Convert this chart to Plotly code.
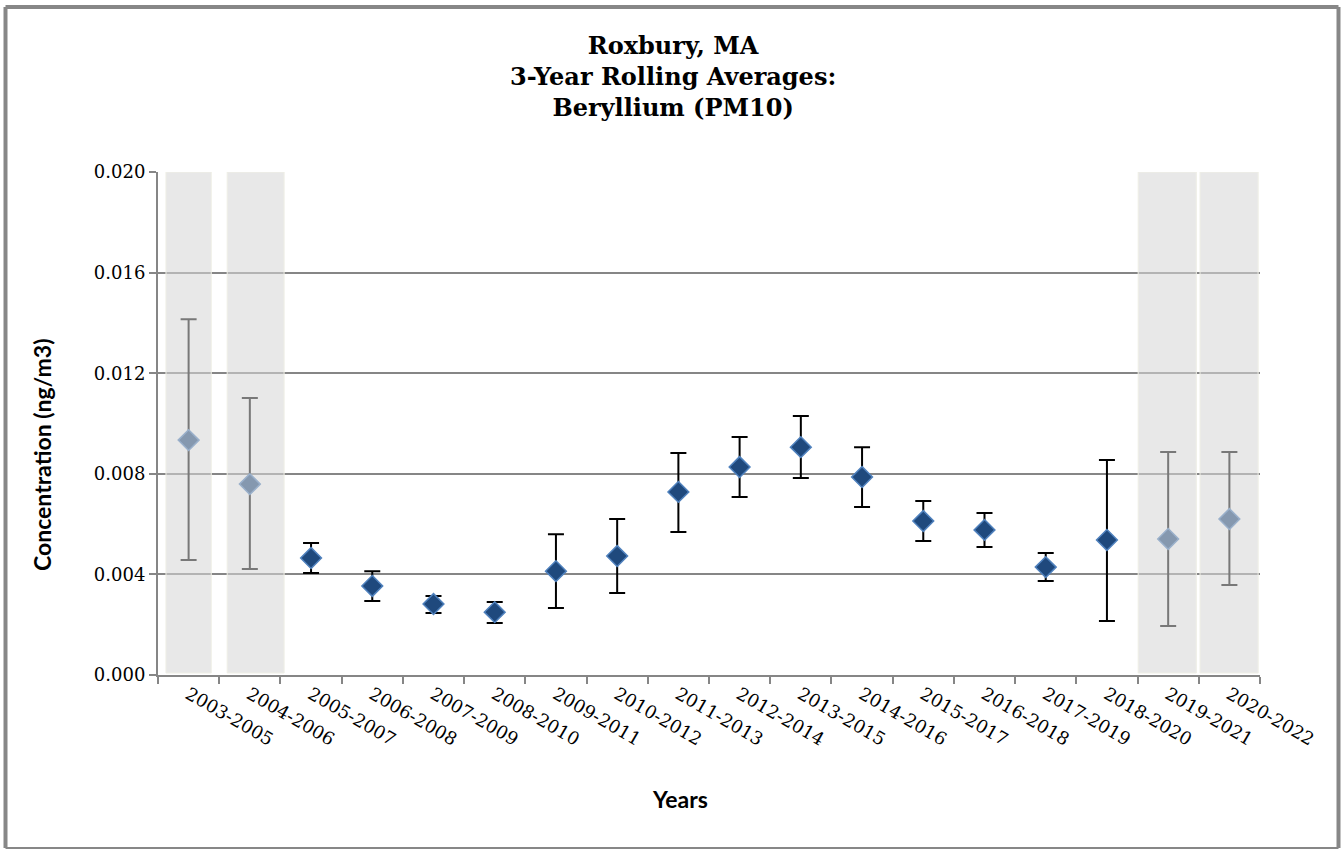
import plotly.graph_objects as go

# 3-year rolling averages of beryllium (PM10) at Roxbury, MA
periods = ["2003-2005", "2004-2006", "2005-2007", "2006-2008", "2007-2009",
           "2008-2010", "2009-2011", "2010-2012", "2011-2013", "2012-2014",
           "2013-2015", "2014-2016", "2015-2017", "2016-2018", "2017-2019",
           "2018-2020", "2019-2021", "2020-2022"]
mean_conc = [0.00934, 0.00759, 0.00465, 0.00354, 0.00282, 0.00250, 0.00413,
             0.00473, 0.00728, 0.00827, 0.00906, 0.00787, 0.00612, 0.00577,
             0.00429, 0.00537, 0.00541, 0.00620]
upper_ci = [0.01415, 0.01101, 0.00525, 0.00413, 0.00314, 0.00290, 0.00560,
            0.00620, 0.00883, 0.00946, 0.01030, 0.00906, 0.00692, 0.00644,
            0.00485, 0.00855, 0.00887, 0.00887]
lower_ci = [0.00457, 0.00421, 0.00406, 0.00294, 0.00247, 0.00207, 0.00266,
            0.00326, 0.00569, 0.00708, 0.00783, 0.00668, 0.00533, 0.00509,
            0.00374, 0.00215, 0.00195, 0.00358]
# periods with incomplete data, greyed out
incomplete = ["2003-2005", "2004-2006", "2019-2021", "2020-2022"]
y_ticks = [0.000, 0.004, 0.008, 0.012, 0.016, 0.020]

err_plus = [u - m for u, m in zip(upper_ci, mean_conc)]
err_minus = [m - l for m, l in zip(mean_conc, lower_ci)]

SERIF = "DejaVu Serif"
SANS = "Lato"

# plot-area geometry (pixels) used for paper-coordinate placement
W, H = 1344, 850
L, R, T, B = 158, 84, 172, 175
pw, ph = W - L - R, H - T - B


def px(x):
    return (x - L) / pw


def py(y):
    return (H - B - y) / ph


fig = go.Figure()
fig.add_trace(go.Scatter(
    x=periods, y=mean_conc, mode="markers",
    marker=dict(symbol="diamond", size=16, color="#1F497D",
                line=dict(color="#4F81BD", width=1.5)),
    error_y=dict(type="data", symmetric=False, array=err_plus,
                 arrayminus=err_minus, color="black", thickness=2, width=8),
    showlegend=False, cliponaxis=False,
))

# grey overlays on incomplete periods (left/right extent in category units)
spans = {"2003-2005": (0.37, 0.37), "2004-2006": (0.37, 0.56),
         "2019-2021": (0.49, 0.46), "2020-2022": (0.48, 0.47)}
shapes = []
for p in incomplete:
    i = periods.index(p)
    dl, dr = spans[p]
    shapes.append(dict(type="rect", xref="x", yref="y", x0=i - dl, x1=i + dr,
                       y0=0.00008, y1=0.02, layer="above",
                       fillcolor="rgba(214,214,214,0.56)",
                       line=dict(color="#efefe6", width=1)))

# outer chart frame
frame = "#878787"
fx0, fx1, fy0, fy1 = px(5.5), px(1338.5), py(7), py(848)
for (x0, y0, x1, y1, w) in [(fx0, fy0, fx1, fy0, 4), (fx0, fy0, fx0, fy1, 4),
                            (fx1, fy0, fx1, fy1, 4), (fx0, fy1, fx1, fy1, 2)]:
    shapes.append(dict(type="line", xref="paper", yref="paper",
                       x0=x0, y0=y0, x1=x1, y1=y1,
                       line=dict(color=frame, width=w)))

annotations = [
    dict(text="<b>Roxbury, MA<br>3-Year Rolling Averages:<br>Beryllium (PM10)</b>",
         xref="paper", yref="paper", x=px(673), y=py(77),
         xanchor="center", yanchor="middle", showarrow=False,
         font=dict(family=SERIF, size=24, color="black")),
    dict(text="<b>Concentration (ng/m3)</b>", xref="paper", yref="paper",
         x=px(42), y=py(455), textangle=-90, xanchor="center",
         yanchor="middle", showarrow=False,
         font=dict(family=SANS, size=23, color="black")),
    dict(text="<b>Years</b>", xref="paper", yref="paper",
         x=px(680), y=py(799), xanchor="center", yanchor="middle",
         showarrow=False, font=dict(family=SANS, size=23, color="black")),
]

fig.update_layout(
    width=W, height=H, margin=dict(l=L, r=R, t=T, b=B),
    paper_bgcolor="white", plot_bgcolor="white",
    shapes=shapes, annotations=annotations,
    xaxis=dict(type="category", categoryorder="array", categoryarray=periods,
               tickson="boundaries", ticks="outside", ticklen=7,
               tickcolor="#868686", tickwidth=2, tickangle=30,
               showline=True, linecolor="#868686", linewidth=2,
               showgrid=False, range=[-0.5, len(periods) - 0.5],
               tickfont=dict(family=SERIF, size=18, color="black")),
    yaxis=dict(range=[0, 0.020], tickvals=y_ticks,
               ticktext=[f"{v:.3f}" for v in y_ticks],
               ticks="outside", ticklen=7, tickcolor="#868686", tickwidth=2,
               showline=True, linecolor="#868686", linewidth=2,
               showgrid=True, gridcolor="#868686", gridwidth=1.5,
               zeroline=False,
               tickfont=dict(family=SERIF, size=18, color="black")),
)

fig.write_html("out.html")
